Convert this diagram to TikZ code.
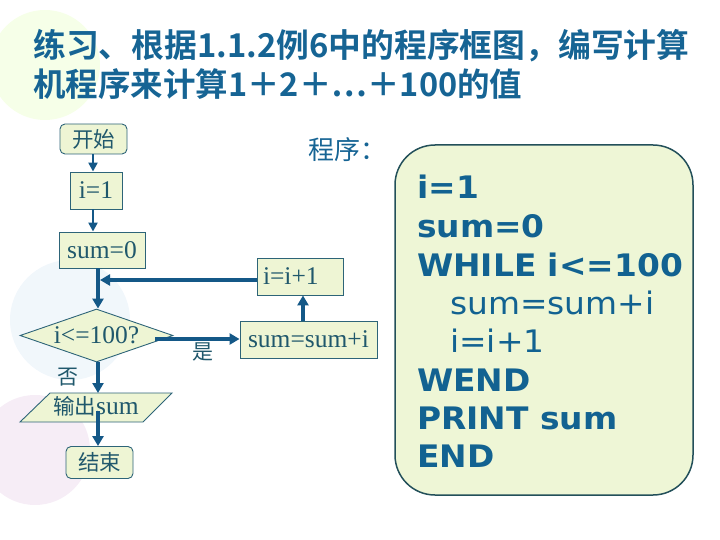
\documentclass[tikz,border=0pt]{standalone}
\usepackage{fontspec}
\setmainfont{Liberation Serif}
\newfontfamily\cjk{Noto Sans CJK SC}
\newfontfamily\cjkb{Noto Sans CJK SC Bold}
\newfontfamily\codef[FakeStretch=1.06]{DejaVu Sans}
\usetikzlibrary{arrows.meta,shapes.geometric}
\definecolor{titlec}{RGB}{22,100,148}
\definecolor{codec}{RGB}{18,98,145}
\definecolor{flowtxt}{RGB}{32,88,108}
\definecolor{boxdraw}{RGB}{45,100,120}
\definecolor{boxfill}{RGB}{238,245,212}
\definecolor{arrc}{RGB}{20,88,135}
\definecolor{codefill}{RGB}{238,246,214}
\definecolor{codedraw}{RGB}{35,80,90}
\tikzset{
  fbox/.style={draw=boxdraw, fill=boxfill, line width=0.9pt, inner sep=0pt, text=flowtxt, font=\fontsize{25.5}{27}\selectfont},
  rbox/.style={fbox, rounded corners=5pt},
  thinarr/.style={draw=arrc, line width=2.6pt, -{Triangle[length=9pt,width=9pt]}},
  thickarr/.style={draw=arrc, line width=4pt, -{Triangle[length=10pt,width=11pt]}},
  codeline/.style={anchor=base west, inner sep=0pt, text=codec, font=\codef\fontsize{31}{33}\selectfont},
  codebold/.style={codeline, font=\codef\bfseries\fontsize{31}{33}\selectfont},
  lbl/.style={text=flowtxt, inner sep=0pt, font=\cjk\fontsize{21}{22}\selectfont}
}
\begin{document}
\begin{tikzpicture}[x=1pt,y=-1pt]
\useasboundingbox (0,0) rectangle (720,540);
% faint background decoration
\fill[green!40!yellow, opacity=0.09] (45,65) circle (55);
\fill[cyan!50!blue, opacity=0.06] (70,320) circle (60);
\fill[violet, opacity=0.07] (35,450) circle (55);
% title
\node[anchor=west, inner sep=0pt, text=titlec, font=\cjkb\fontsize{32.8}{34}\selectfont] (t1) at (33,46) {练习、根据1.1.2例6中的程序框图，编写计算};
\node[anchor=west, inner sep=0pt, text=titlec, font=\cjkb\fontsize{32.5}{34}\selectfont] (t2) at (33,84) {机程序来计算1＋2＋…＋100的值};
% program label
\node[inner sep=0pt, text=titlec, font=\cjk\fontsize{26}{28}\selectfont] (prog) at (347,150) {程序：};
% flowchart
\node[rbox, minimum width=67pt, minimum height=30pt, font=\cjk\fontsize{21.5}{22}\selectfont] (ks) at (93.5,139) {开始};
\node[fbox, minimum width=52pt, minimum height=37pt] (i1) at (96,190.5) {i=1};
\node[fbox, minimum width=86pt, minimum height=36pt] (s0) at (102,250) {sum=0};
\node[fbox, minimum width=86pt, minimum height=37pt, text width=74pt, align=left] (inc) at (300,276.5) {i=i+1};
\node[fbox, shape=diamond, aspect=2.83, minimum width=153pt, minimum height=53pt] (dec) at (96.5,335.5) {i<=100?};
\node[fbox, minimum width=137pt, minimum height=37pt] (acc) at (308.5,339.5) {sum=sum+i};
\draw[draw=boxdraw, fill=boxfill, line width=0.9pt] (20,422) -- (143,422) -- (172,393) -- (50,393) -- cycle;
\node[inner sep=0pt, text=flowtxt, font=\fontsize{25.5}{27}\selectfont] (outp) at (96,406) {{\cjk\fontsize{21.5}{22}\selectfont 输出}sum};
\node[rbox, minimum width=67pt, minimum height=32pt, font=\cjk\fontsize{21.5}{22}\selectfont] (js) at (99.5,462.5) {结束};
\node[lbl] (yes) at (203,352) {是};
\node[lbl] (no) at (68,377) {否};
% connectors
\coordinate (loopin) at (98,280);
\draw[thinarr] (ks.south -| 93,0) -- (i1.north -| 93,0);
\draw[thinarr] (i1.south -| 93,0) -- (s0.north -| 93,0);
\draw[draw=arrc, line width=4pt] (s0.south -| loopin) -- (loopin);
\draw[thickarr] (loopin) -- (dec.north -| loopin);
\draw[thickarr] (inc.west |- loopin) -- ([xshift=2pt]loopin);
\draw[thickarr] (155,339) -- (acc.west |- 0,339);
\draw[thickarr] (acc.north -| 303,0) -- (inc.south -| 303,0);
\draw[thickarr] (dec.south -| loopin) -- (98,393);
\draw[thickarr] (98,411) -- (js.north -| loopin);
% code box
\draw[draw=codedraw, fill=codefill, line width=1.5pt, rounded corners=40pt] (395,145) rectangle (693,495);
\node[codebold] (c1) at (417,199) {i=1};
\node[codebold] (c2) at (417,237) {sum=0};
\node[codebold] (c3) at (417,276) {WHILE i<=100};
\node[codeline] (c4) at (450,314) {sum=sum+i};
\node[codeline] (c5) at (450,352) {i=i+1};
\node[codebold] (c6) at (417,391) {WEND};
\node[codebold] (c7) at (417,429) {PRINT sum};
\node[codebold] (c8) at (417,467) {END};
\end{tikzpicture}
\end{document}
